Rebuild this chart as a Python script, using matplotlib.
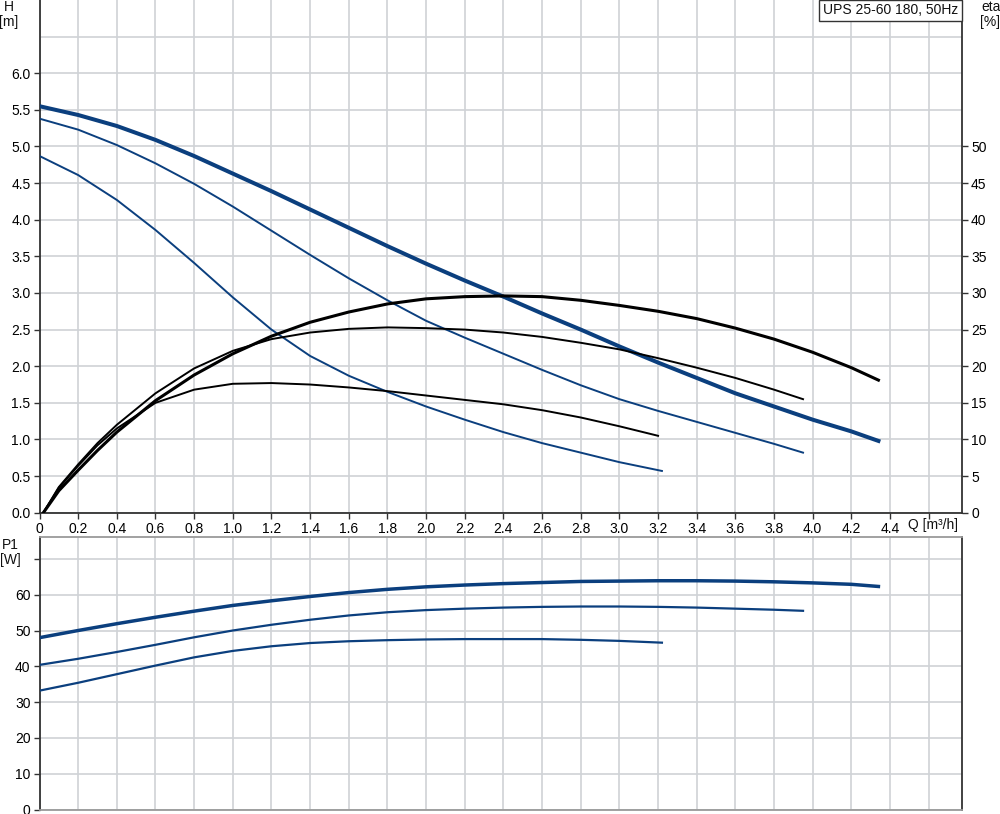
import matplotlib
matplotlib.use("Agg")
import matplotlib.pyplot as plt
from matplotlib.patches import Rectangle

plt.rcParams['font.family'] = ['Liberation Sans', 'DejaVu Sans']
plt.rcParams['lines.solid_joinstyle'] = 'round'

# ---------------- data ----------------
q_s3 = [0, 0.2, 0.4, 0.6, 0.8, 1.0, 1.2, 1.4, 1.6, 1.8, 2.0, 2.2, 2.4, 2.6, 2.8,
        3.0, 3.2, 3.4, 3.6, 3.8, 4.0, 4.2, 4.34]
h_s3 = [5.55, 5.43, 5.28, 5.09, 4.87, 4.63, 4.39, 4.14, 3.89, 3.64, 3.40, 3.17,
        2.95, 2.72, 2.50, 2.27, 2.05, 1.84, 1.63, 1.45, 1.27, 1.11, 0.98]
p_s3 = [48.0, 50.0, 51.9, 53.7, 55.4, 57.0, 58.3, 59.5, 60.6, 61.5, 62.2, 62.7,
        63.1, 63.4, 63.7, 63.8, 63.9, 63.9, 63.8, 63.6, 63.3, 62.9, 62.3]
q_e3 = [0.02, 0.1, 0.2, 0.3, 0.4, 0.6, 0.8, 1.0, 1.2, 1.4, 1.6, 1.8, 2.0, 2.2,
        2.4, 2.6, 2.8, 3.0, 3.2, 3.4, 3.6, 3.8, 4.0, 4.2, 4.34]
eta_s3 = [0.0, 3.0, 5.8, 8.5, 11.0, 15.3, 18.8, 21.7, 24.1, 26.0, 27.4, 28.5,
          29.2, 29.5, 29.6, 29.5, 29.0, 28.3, 27.5, 26.5, 25.2, 23.7, 21.9,
          19.8, 18.1]

q_s2 = [0, 0.2, 0.4, 0.6, 0.8, 1.0, 1.2, 1.4, 1.6, 1.8, 2.0, 2.2, 2.4, 2.6, 2.8,
        3.0, 3.2, 3.4, 3.6, 3.8, 3.95]
h_s2 = [5.38, 5.23, 5.02, 4.77, 4.49, 4.18, 3.85, 3.52, 3.20, 2.90, 2.62, 2.39,
        2.17, 1.95, 1.74, 1.55, 1.39, 1.24, 1.09, 0.94, 0.82]
p_s2 = [40.4, 42.1, 44.0, 46.0, 48.1, 50.0, 51.6, 53.0, 54.2, 55.1, 55.7, 56.1,
        56.4, 56.6, 56.7, 56.7, 56.6, 56.4, 56.1, 55.8, 55.5]
q_e2 = [0.02, 0.1, 0.2, 0.3, 0.4, 0.6, 0.8, 1.0, 1.2, 1.4, 1.6, 1.8, 2.0, 2.2,
        2.4, 2.6, 2.8, 3.0, 3.2, 3.4, 3.6, 3.8, 3.95]
eta_s2 = [0.0, 3.5, 6.6, 9.5, 12.0, 16.3, 19.7, 22.1, 23.7, 24.6, 25.1, 25.3,
          25.2, 25.0, 24.6, 24.0, 23.2, 22.3, 21.1, 19.8, 18.4, 16.8, 15.5]

q_s1 = [0, 0.2, 0.4, 0.6, 0.8, 1.0, 1.2, 1.4, 1.6, 1.8, 2.0, 2.2, 2.4, 2.6, 2.8,
        3.0, 3.22]
h_s1 = [4.87, 4.61, 4.27, 3.86, 3.41, 2.94, 2.50, 2.14, 1.87, 1.65, 1.45, 1.27,
        1.10, 0.95, 0.82, 0.69, 0.57]
p_s1 = [33.2, 35.4, 37.8, 40.2, 42.5, 44.3, 45.6, 46.5, 47.0, 47.3, 47.5, 47.6,
        47.6, 47.6, 47.4, 47.1, 46.6]
q_e1 = [0.02, 0.1, 0.2, 0.3, 0.4, 0.6, 0.8, 1.0, 1.2, 1.4, 1.6, 1.8, 2.0, 2.2,
        2.4, 2.6, 2.8, 3.0, 3.2]
eta_s1 = [0.0, 3.4, 6.4, 9.2, 11.5, 15.0, 16.8, 17.6, 17.7, 17.5, 17.1, 16.6,
          16.0, 15.4, 14.8, 14.0, 13.0, 11.8, 10.5]

x_ticks = [0, 0.2, 0.4, 0.6, 0.8, 1.0, 1.2, 1.4, 1.6, 1.8, 2.0, 2.2, 2.4, 2.6,
           2.8, 3.0, 3.2, 3.4, 3.6, 3.8, 4.0, 4.2, 4.4, 4.6]
x_labels = ['0', '0.2', '0.4', '0.6', '0.8', '1.0', '1.2', '1.4', '1.6', '1.8',
            '2.0', '2.2', '2.4', '2.6', '2.8', '3.0', '3.2', '3.4', '3.6', '3.8',
            '4.0', '4.2', '4.4', '']
h_ticks = [0.0, 0.5, 1.0, 1.5, 2.0, 2.5, 3.0, 3.5, 4.0, 4.5, 5.0, 5.5, 6.0]
h_labels = ['0.0', '0.5', '1.0', '1.5', '2.0', '2.5', '3.0', '3.5', '4.0',
            '4.5', '5.0', '5.5', '6.0']
eta_ticks = [0, 5, 10, 15, 20, 25, 30, 35, 40, 45, 50]
p_ticks = [0, 10, 20, 30, 40, 50, 60, 70]
p_labels = ['0', '10', '20', '30', '40', '50', '60', '']
title_text = 'UPS 25-60 180, 50Hz'

# ---------------- style ----------------
BLUE = '#0b3f7e'
BLACK = '#000000'
GRID = '#cfd2d6'
SPINE = '#333333'
FS = 10

W, H = 1000, 814
fig = plt.figure(figsize=(W / 100, H / 100), dpi=100)

x0 = 39.5 / W
wax = (962 - 39.5) / W
ax = fig.add_axes([x0, 1 - 512.7 / H, wax, 512.7 / H])
axp = fig.add_axes([x0, 1 - 809.5 / H, wax, (809.5 - 537) / H])

xmax = (962 - 39.5) / 193.3

# ---- top axes ----
ax.set_xlim(0, xmax)
ax.set_ylim(0, 7.0)
ax.set_xticks(x_ticks)
ax.set_xticklabels(x_labels, fontsize=FS)
ax.set_yticks(h_ticks)
ax.set_yticklabels(h_labels, fontsize=FS)
ax.grid(True, color=GRID, lw=1.2, zorder=0)
ax.axhline(6.5, color=GRID, lw=1.2, zorder=0)
ax.set_axisbelow(True)
ax.tick_params(direction='out', length=4.5, width=1, color=SPINE, pad=2)
for s in ['left', 'bottom', 'right']:
    ax.spines[s].set_color(SPINE)
    ax.spines[s].set_linewidth(1.3)
ax.spines['top'].set_visible(False)

ax.plot(q_s1, h_s1, color=BLUE, lw=1.4, zorder=3)
ax.plot(q_s2, h_s2, color=BLUE, lw=1.4, zorder=3)
ax.plot(q_s3, h_s3, color=BLUE, lw=2.9, zorder=3)

axe = ax.twinx()
axe.set_ylim(0, 70)
axe.set_yticks(eta_ticks)
axe.set_yticklabels([str(t) for t in eta_ticks], fontsize=FS)
axe.tick_params(direction='out', length=4.5, width=1, color=SPINE, pad=2)
for s in axe.spines.values():
    s.set_visible(False)
axe.plot(q_e1, eta_s1, color=BLACK, lw=1.4, zorder=3)
axe.plot(q_e2, eta_s2, color=BLACK, lw=1.4, zorder=3)
axe.plot(q_e3, eta_s3, color=BLACK, lw=2.2, zorder=3)

# ---- bottom axes ----
axp.set_xlim(0, xmax)
axp.set_ylim(0, (809.5 - 537) / 3.58)
axp.set_xticks(x_ticks)
axp.set_xticklabels([])
axp.tick_params(axis='x', length=0)
axp.set_yticks(p_ticks)
axp.set_yticklabels(p_labels, fontsize=FS)
axp.tick_params(axis='y', direction='out', length=4.5, width=1, color=SPINE, pad=2)
axp.grid(True, color=GRID, lw=1.2, zorder=0)
axp.set_axisbelow(True)
for s in ['left', 'right']:
    axp.spines[s].set_color(SPINE)
    axp.spines[s].set_linewidth(1.3)
for s in ['top', 'bottom']:
    axp.spines[s].set_color('#9a9a9a')
    axp.spines[s].set_linewidth(1.3)

axp.plot(q_s1, p_s1, color=BLUE, lw=1.6, zorder=3)
axp.plot(q_s2, p_s2, color=BLUE, lw=1.6, zorder=3)
axp.plot(q_s3, p_s3, color=BLUE, lw=2.5, zorder=3)

# ---- labels ----
def ftxt(x, y, s, ha='center'):
    fig.text(x / W, 1 - y / H, s, ha=ha, va='center', fontsize=FS, color='#111111')

ftxt(9, 7, 'H')
ftxt(9, 22, '[m]')
ftxt(991, 7, 'eta')
ftxt(990, 22, '[%]')
ftxt(10, 545, 'P1')
ftxt(10, 560, '[W]')
ftxt(908, 525, 'Q [m³/h]', ha='left')

fig.patches.append(Rectangle((819 / W, 1 - 21 / H), (962 - 819) / W, 21 / H,
                             transform=fig.transFigure, facecolor='white',
                             edgecolor=SPINE, lw=1.0, zorder=10))
fig.text(890.5 / W, 1 - 10.5 / H, title_text, ha='center', va='center',
         fontsize=FS, color='#111111', zorder=11)

fig.savefig('out.png', dpi=100)
